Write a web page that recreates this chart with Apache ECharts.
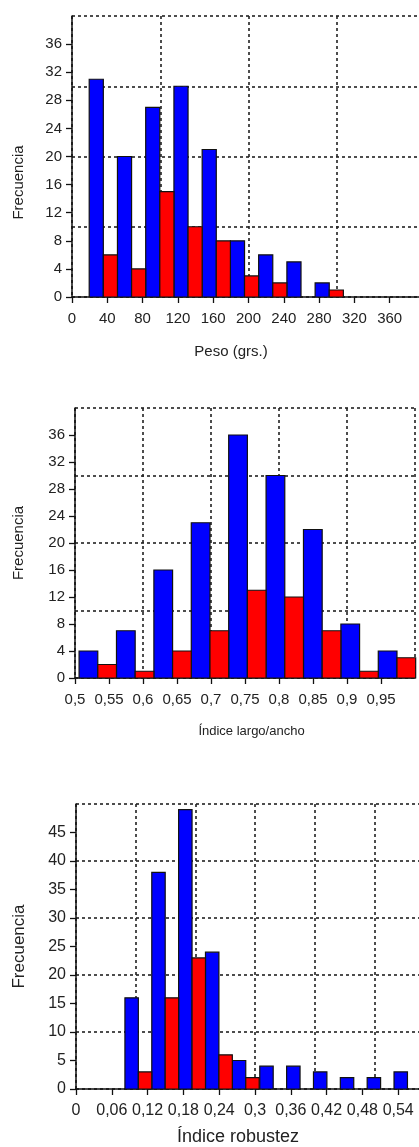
<!DOCTYPE html>
<html>
<head>
<meta charset="utf-8">
<script src="https://cdn.jsdelivr.net/npm/echarts@6/dist/echarts.min.js"></script>
<style>
html, body { margin:0; padding:0; overflow:hidden; background:#fff; width:419px; height:1147px; }
#chart { width:460px; height:1147px; }
</style>
</head>
<body>
<div id="chart"></div>
<script>
// ---------- DATA ----------
// Panel 1: Peso (grs.)
const pesoBinLeft  = [19.5, 51.5, 83.5, 115.5, 147.5, 179.5, 211.5, 243.5, 275.5];
const pesoHalfBin  = 16;
const pesoBlue     = [31, 20, 27, 30, 21, 8, 6, 5, 2];
const pesoRed      = [6, 4, 15, 10, 8, 3, 2, 0, 1];
const pesoXTicks   = [0, 40, 80, 120, 160, 200, 240, 280, 320, 360];
const pesoYTicks   = [0, 4, 8, 12, 16, 20, 24, 28, 32, 36];

// Panel 2: Índice largo/ancho
const largoBinLeft = [0.506, 0.561, 0.616, 0.671, 0.726, 0.781, 0.836, 0.891, 0.946];
const largoHalfBin = 0.0275;
const largoBlue    = [4, 7, 16, 23, 36, 30, 22, 8, 4];
const largoRed     = [2, 1, 4, 7, 13, 12, 7, 1, 3];
const largoXTicks  = [0.5, 0.55, 0.6, 0.65, 0.7, 0.75, 0.8, 0.85, 0.9, 0.95];
const largoYTicks  = [0, 4, 8, 12, 16, 20, 24, 28, 32, 36];

// Panel 3: Índice robustez
const robBinLeft   = [0.082, 0.127, 0.172, 0.217, 0.262, 0.308, 0.353, 0.398, 0.443, 0.488, 0.533];
const robHalfBin   = 0.0225;
const robBlue      = [16, 38, 49, 24, 5, 4, 4, 3, 2, 2, 3];
const robRed       = [3, 16, 23, 6, 2, 0, 0, 0, 0, 0, 0];
const robXTicks    = [0, 0.06, 0.12, 0.18, 0.24, 0.3, 0.36, 0.42, 0.48, 0.54];
const robYTicks    = [0, 5, 10, 15, 20, 25, 30, 35, 40, 45];

// ---------- BUILD ----------
const FONT = "'Liberation Sans', Arial, sans-serif";
const TXT = '#222';
const comma = v => String(v).replace('.', ',');

function barData(lefts, half, vals, offset) {
  return lefts.map((l, i) => [l + offset * half, l + (offset + 1) * half, vals[i]]);
}
function makeRender(color) {
  return function (params, api) {
    const y = api.value(2);
    if (!y) return null;
    const p0 = api.coord([api.value(0), y]);
    const p1 = api.coord([api.value(1), 0]);
    return {
      type: 'rect',
      shape: { x: p0[0], y: p0[1], width: p1[0] - p0[0], height: p1[1] - p0[1] },
      style: { fill: color, stroke: '#111', lineWidth: 1.2 }
    };
  };
}

const dotted = { show: true, lineStyle: { color: '#222', width: 1.6, type: [3, 3] } };

const panels = [
  { grid: { left: 72, top: 16, width: 353, height: 281 },
    xMin: 0, xMax: 400, xGrid: 100, yMax: 40, yGrid: 10,
    xTicks: pesoXTicks, yTicks: pesoYTicks, fmt: v => String(v),
    xName: 'Peso (grs.)', xNameSize: 15, xNameGap: 47, xNamePad: [0, 35, 0, 0],
    yNameSize: 15, yNameGap: 46, yNamePad: [0, 52, 0, 0], labelSize: 15,
    lefts: pesoBinLeft, half: pesoHalfBin, blue: pesoBlue, red: pesoRed },
  { grid: { left: 75, top: 408, width: 340, height: 270 },
    xMin: 0.5, xMax: 1.0, xGrid: 0.1, yMax: 40, yGrid: 10,
    xTicks: largoXTicks, yTicks: largoYTicks, fmt: comma,
    xName: 'Índice largo/ancho', xNameSize: 13, xNameGap: 47, xNamePad: [0, 0, 0, 13],
    yNameSize: 15, yNameGap: 49, yNamePad: 0, labelSize: 15,
    lefts: largoBinLeft, half: largoHalfBin, blue: largoBlue, red: largoRed },
  { grid: { left: 76, top: 804, width: 358, height: 285 },
    xMin: 0, xMax: 0.6, xGrid: 0.1, yMax: 50, yGrid: 10,
    xTicks: robXTicks, yTicks: robYTicks, fmt: comma,
    xName: 'Índice robustez', xNameSize: 18, xNameGap: 39, xNamePad: [0, 34, 0, 0],
    yNameSize: 17, yNameGap: 48, yNamePad: 0, labelSize: 16,
    lefts: robBinLeft, half: robHalfBin, blue: robBlue, red: robRed }
];

const option = { animation: false, grid: [], xAxis: [], yAxis: [], series: [] };
panels.forEach((p, g) => {
  option.grid.push(p.grid);
  option.xAxis.push({
    type: 'value', gridIndex: g, min: p.xMin, max: p.xMax, position: 'bottom',
    axisLine: { show: true, onZero: false, lineStyle: { color: '#111', width: 1.5 } },
    axisTick: { show: true, length: 6, lineStyle: { color: '#111', width: 1.3 }, customValues: p.xTicks },
    axisLabel: { show: true, customValues: p.xTicks, formatter: p.fmt, margin: 14,
      fontFamily: FONT, fontSize: p.labelSize, color: TXT },
    splitLine: { show: false },
    name: p.xName, nameLocation: 'middle', nameGap: p.xNameGap,
    nameTextStyle: { fontFamily: FONT, fontSize: p.xNameSize, color: TXT, padding: p.xNamePad }
  });
  option.xAxis.push({
    type: 'value', gridIndex: g, min: p.xMin, max: p.xMax, interval: p.xGrid, position: 'top',
    axisLine: { show: false }, axisTick: { show: false }, axisLabel: { show: false },
    splitLine: dotted
  });
  option.yAxis.push({
    type: 'value', gridIndex: g, min: 0, max: p.yMax, position: 'left',
    axisLine: { show: true, onZero: false, lineStyle: { color: '#111', width: 1.5 } },
    axisTick: { show: true, length: 6, lineStyle: { color: '#111', width: 1.3 }, customValues: p.yTicks },
    axisLabel: { show: true, customValues: p.yTicks, margin: 10,
      fontFamily: FONT, fontSize: p.labelSize, color: TXT },
    splitLine: { show: false },
    name: 'Frecuencia', nameLocation: 'middle', nameGap: p.yNameGap,
    nameTextStyle: { fontFamily: FONT, fontSize: p.yNameSize, color: TXT, padding: p.yNamePad }
  });
  option.yAxis.push({
    type: 'value', gridIndex: g, min: 0, max: p.yMax, interval: p.yGrid, position: 'right',
    axisLine: { show: false }, axisTick: { show: false }, axisLabel: { show: false },
    splitLine: dotted
  });
  option.series.push({
    type: 'custom', coordinateSystem: 'cartesian2d', xAxisIndex: 2 * g, yAxisIndex: 2 * g,
    renderItem: makeRender('#0000ff'), encode: { x: [0, 1], y: 2 },
    data: barData(p.lefts, p.half, p.blue, 0), z: 3
  });
  option.series.push({
    type: 'custom', coordinateSystem: 'cartesian2d', xAxisIndex: 2 * g, yAxisIndex: 2 * g,
    renderItem: makeRender('#ff0000'), encode: { x: [0, 1], y: 2 },
    data: barData(p.lefts, p.half, p.red, 1), z: 3
  });
});

const chart = echarts.init(document.getElementById('chart'), null, { renderer: 'canvas' });
chart.setOption(option);
</script>
</body>
</html>
